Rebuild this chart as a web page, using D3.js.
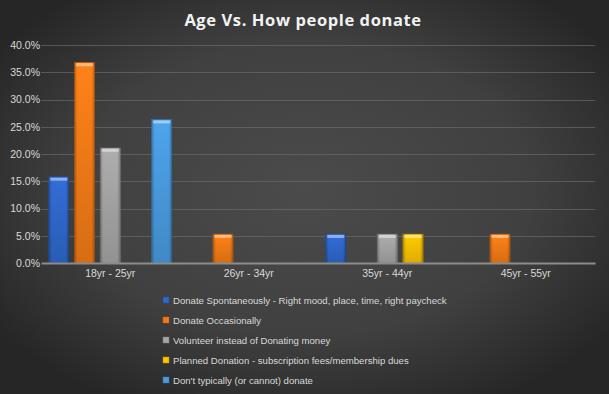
<!DOCTYPE html>
<html>
<head>
<meta charset="utf-8">
<script src="https://cdn.jsdelivr.net/npm/d3@7"></script>
<style>
  body { margin: 0; background: #333; }
  svg { display: block; }
</style>
</head>
<body>
<div class="chart"></div>
<script>
// data
const categories = ["18yr - 25yr", "26yr - 34yr", "35yr - 44yr", "45yr - 55yr"];
const seriesNames = [
  "Donate Spontaneously - Right mood, place, time, right paycheck",
  "Donate Occasionally",
  "Volunteer instead of Donating money",
  "Planned Donation - subscription fees/membership dues",
  "Don't typically (or cannot) donate"
];
const spontaneous = [0.158, 0, 0.053, 0];
const occasionally = [0.368, 0.053, 0, 0.053];
const volunteer = [0.211, 0, 0.053, 0];
const planned = [0, 0, 0.053, 0];
const dontDonate = [0.263, 0, 0, 0];
const seriesValues = [spontaneous, occasionally, volunteer, planned, dontDonate];
const yTicks = [0, 0.05, 0.10, 0.15, 0.20, 0.25, 0.30, 0.35, 0.40];
const colors = ["#2f68cc", "#f47b17", "#a5a5a5", "#fec200", "#4a9be0"];

let width = 609, height = 394;
let margin = {left: 41, right: 14, top: 45, bottom: 131};

let svg = d3.select('div.chart').append('svg')
  .attr('width', width)
  .attr('height', height);

let defs = svg.append('defs');
let bg = defs.append('radialGradient').attr('id', 'bg')
  .attr('cx', '50%').attr('cy', '48%').attr('r', '62%');
bg.append('stop').attr('offset', '0%').attr('stop-color', '#4b4b4b');
bg.append('stop').attr('offset', '60%').attr('stop-color', '#404040');
bg.append('stop').attr('offset', '100%').attr('stop-color', '#262626');

colors.forEach((c, i) => {
  let g = defs.append('linearGradient').attr('id', 'bar' + i)
    .attr('x1', 0).attr('y1', 0).attr('x2', 0).attr('y2', 1);
  g.append('stop').attr('offset', '0%').attr('stop-color', d3.color(c).brighter(0.15));
  g.append('stop').attr('offset', '100%').attr('stop-color', d3.color(c).darker(0.35));
  let s = defs.append('linearGradient').attr('id', 'side' + i)
    .attr('x1', 0).attr('y1', 0).attr('x2', 1).attr('y2', 0);
  s.append('stop').attr('offset', '0%').attr('stop-color', '#000').attr('stop-opacity', 0.25);
  s.append('stop').attr('offset', '15%').attr('stop-color', '#000').attr('stop-opacity', 0);
  s.append('stop').attr('offset', '85%').attr('stop-color', '#000').attr('stop-opacity', 0);
  s.append('stop').attr('offset', '100%').attr('stop-color', '#000').attr('stop-opacity', 0.25);
});

svg.append('rect').attr('width', width).attr('height', height).attr('fill', 'url(#bg)');

svg.append('text')
  .attr('x', 303).attr('y', 26)
  .attr('text-anchor', 'middle')
  .attr('fill', '#f2f2f2')
  .style('font-family', '"Open Sans", sans-serif')
  .style('font-weight', 'bold')
  .style('font-size', '16.5px')
  .style('letter-spacing', '0.6px')
  .text('Age Vs. How people donate');

let x0 = d3.scaleBand().domain(categories)
  .range([margin.left, width - margin.right]);
let x1 = d3.scaleBand().domain(d3.range(seriesNames.length))
  .range([0, x0.bandwidth()])
  .paddingInner(0.22).paddingOuter(0.3);
let y = d3.scaleLinear().domain([0, 0.4])
  .range([height - margin.bottom, margin.top]);

// gridlines
svg.append('g').selectAll('line')
  .data(yTicks.slice(1)).enter()
  .append('line')
  .attr('x1', margin.left).attr('x2', width - margin.right)
  .attr('y1', d => Math.round(y(d)) + 0.5).attr('y2', d => Math.round(y(d)) + 0.5)
  .attr('stroke', '#6a6a6a').attr('stroke-opacity', 0.7).attr('stroke-width', 1);

// y axis
let yAxis = svg.append('g')
  .attr('transform', 'translate(' + (margin.left - 1) + ',0)')
  .call(d3.axisLeft(y).tickValues(yTicks).tickFormat(d3.format('.1%')).tickSize(0).tickPadding(0));
yAxis.select('.domain').remove();
yAxis.selectAll('text')
  .attr('fill', '#d9d9d9')
  .style('font-family', '"Liberation Sans", Arial, sans-serif')
  .style('font-size', '10.5px');

// bars
let groups = svg.append('g').selectAll('g')
  .data(categories).enter()
  .append('g')
  .attr('transform', d => 'translate(' + x0(d) + ',0)');

let bars = groups.selectAll('g')
  .data((d, ci) => seriesValues.map((vals, si) => ({si: si, v: vals[ci]})).filter(e => e.v > 0))
  .enter().append('g');

bars.append('rect')
  .attr('x', d => x1(d.si))
  .attr('y', d => y(d.v))
  .attr('width', x1.bandwidth())
  .attr('height', d => y(0) - y(d.v))
  .attr('fill', d => 'url(#bar' + d.si + ')')
  .attr('stroke', d => d3.color(colors[d.si]).darker(0.8))
  .attr('stroke-width', 0.6);
bars.append('rect')
  .attr('x', d => x1(d.si))
  .attr('y', d => y(d.v))
  .attr('width', x1.bandwidth())
  .attr('height', d => y(0) - y(d.v))
  .attr('fill', d => 'url(#side' + d.si + ')');
bars.append('rect')
  .attr('x', d => x1(d.si) + 1.5)
  .attr('y', d => y(d.v) + 0.8)
  .attr('width', x1.bandwidth() - 3)
  .attr('height', 3)
  .attr('fill', '#fff')
  .attr('fill-opacity', 0.45);

// x axis
let xAxis = svg.append('g')
  .attr('transform', 'translate(0,' + y(0) + ')')
  .call(d3.axisBottom(x0).tickSize(0).tickPadding(7));
xAxis.select('.domain')
  .attr('stroke', '#8c8c8c').attr('stroke-width', 2);
xAxis.selectAll('text')
  .attr('fill', '#d9d9d9')
  .style('font-family', '"Liberation Sans", Arial, sans-serif')
  .style('font-size', '10.5px');

// legend
let legend = svg.append('g').selectAll('g')
  .data(seriesNames).enter()
  .append('g')
  .attr('transform', (d, i) => 'translate(163,' + (300 + i * 20) + ')');
legend.append('rect')
  .attr('x', 0).attr('y', -3).attr('width', 6).attr('height', 6)
  .attr('fill', (d, i) => colors[i])
  .attr('stroke', (d, i) => d3.color(colors[i]).darker(0.8))
  .attr('stroke-width', 0.5);
legend.append('text')
  .attr('x', 10).attr('y', 3.5)
  .attr('fill', '#d9d9d9')
  .style('font-family', '"Liberation Sans", Arial, sans-serif')
  .style('font-size', '9.6px')
  .text(d => d);
</script>
</body>
</html>
